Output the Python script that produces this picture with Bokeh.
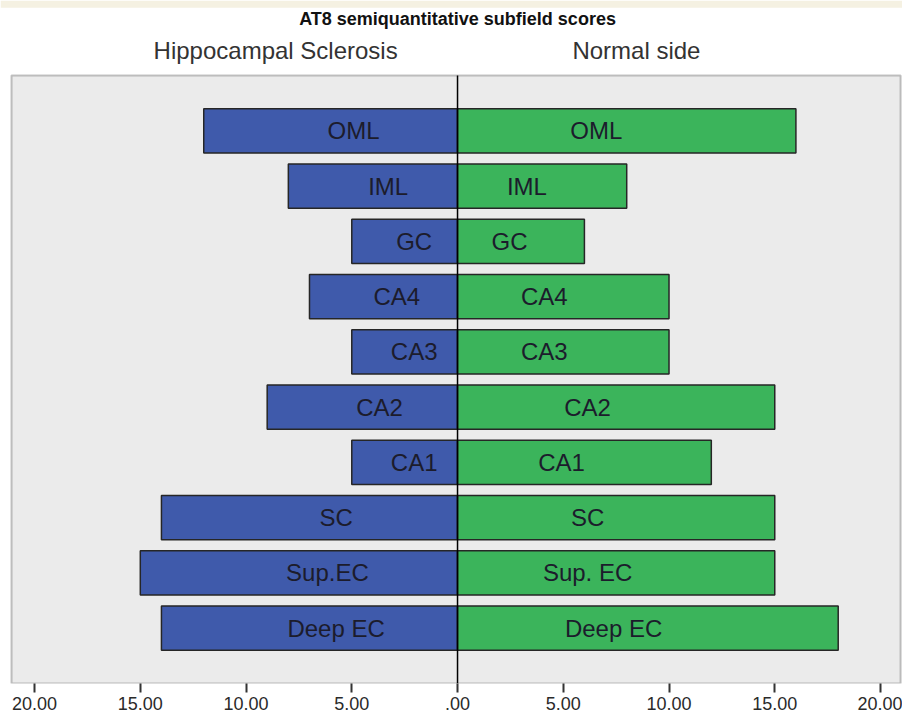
from bokeh.plotting import figure
from bokeh.models import ColumnDataSource, FixedTicker, Label, Range1d, BoxAnnotation
from bokeh.embed import file_html
from bokeh.resources import INLINE
from bokeh.core.properties import value

# ---- data ----
subfields = ["OML", "IML", "GC", "CA4", "CA3", "CA2", "CA1", "SC", "Sup.EC", "Deep EC"]
labels_left = ["OML", "IML", "GC", "CA4", "CA3", "CA2", "CA1", "SC", "Sup.EC", "Deep EC"]
labels_right = ["OML", "IML", "GC", "CA4", "CA3", "CA2", "CA1", "SC", "Sup. EC", "Deep EC"]
hs_scores = [12, 8, 5, 7, 5, 9, 5, 14, 15, 14]          # Hippocampal Sclerosis
normal_scores = [16, 8, 6, 10, 10, 15, 12, 15, 15, 18]  # Normal side
tick_values = [-20, -15, -10, -5, 0, 5, 10, 15, 20]
tick_labels = ["20.00", "15.00", "10.00", "5.00", ".00", "5.00", "10.00", "15.00", "20.00"]
title_text = "AT8 semiquantitative subfield scores"
left_title = "Hippocampal Sclerosis"
right_title = "Normal side"

# in-bar labels sit a bit inside of the bar middle (as in the source chart)
LABEL_FRAC = 0.41

n = len(subfields)
ypos = [n - i for i in range(n)]

left_src = ColumnDataSource(dict(
    y=ypos,
    left=[-v for v in hs_scores],
    right=[0] * n,
    lx=[-v * LABEL_FRAC for v in hs_scores],
    label=labels_left,
))
right_src = ColumnDataSource(dict(
    y=ypos,
    left=[0] * n,
    right=normal_scores,
    lx=[v * LABEL_FRAC for v in normal_scores],
    label=labels_right,
))

FONT = value("Liberation Sans")

# layout: frame spans the whole width; the grey plot box is drawn inside it
X_START, X_END = -21.61, 21.04
Y_TOP = 12.357  # space above the plot box holds the titles

p = figure(
    width=902, height=714,
    x_range=Range1d(X_START, X_END), y_range=Range1d(0, Y_TOP),
    output_backend="svg", toolbar_location=None,
    y_axis_location=None,
    min_border_left=0, min_border_right=0, min_border_top=0, min_border_bottom=31,
)
p.background_fill_color = "white"
p.border_fill_color = "white"
p.outline_line_color = None
p.grid.visible = False

# beige strip at the very top
p.add_layout(BoxAnnotation(bottom=Y_TOP - 0.13, fill_color="#f5f1e2", fill_alpha=1,
                           line_color=None, level="underlay"))
# grey plot box with dark outline
p.add_layout(BoxAnnotation(left=-21.09, right=20.95, bottom=0, top=n + 1,
                           fill_color="#ebebeb", fill_alpha=1,
                           line_color="#3a3a3a", line_width=2, level="underlay"))

p.hbar(y="y", left="left", right="right", height=0.8, source=left_src,
       fill_color="#3f5aab", line_color="#262626", line_width=1.5)
p.hbar(y="y", left="left", right="right", height=0.8, source=right_src,
       fill_color="#3bb45b", line_color="#262626", line_width=1.5)

p.text(x="lx", y="y", text="label", source=left_src, text_align="center",
       text_baseline="middle", text_font=FONT, text_font_size="24px",
       text_color="#1c1c2c")
p.text(x="lx", y="y", text="label", source=right_src, text_align="center",
       text_baseline="middle", text_font=FONT, text_font_size="24px",
       text_color="#1c1c2c")

# zero line
p.segment(x0=[0], y0=[0], x1=[0], y1=[n + 1], line_color="black", line_width=1.5)

ax = p.xaxis[0]
ax.ticker = FixedTicker(ticks=tick_values)
ax.major_label_overrides = {v: s for v, s in zip(tick_values, tick_labels)}
ax.minor_tick_line_color = None
ax.axis_line_color = None
ax.major_tick_line_color = "#333333"
ax.major_tick_line_width = 2
ax.major_tick_in = 0
ax.major_tick_out = 9
ax.major_label_standoff = 4
ax.major_label_text_font = "Liberation Sans"
ax.major_label_text_font_size = "18px"
ax.major_label_text_color = "#2a2a2a"

p.add_layout(Label(x=0.0, y=12.03, text=title_text, text_align="center",
                   text_baseline="middle", text_font="Liberation Sans",
                   text_font_style="bold", text_font_size="18px", text_color="#111111"))
p.add_layout(Label(x=-8.6, y=11.45, text=left_title, text_align="center",
                   text_baseline="middle", text_font="Liberation Sans",
                   text_font_size="24px", text_color="#333333"))
p.add_layout(Label(x=8.46, y=11.45, text=right_title, text_align="center",
                   text_baseline="middle", text_font="Liberation Sans",
                   text_font_size="24px", text_color="#333333"))

open("out.html", "w").write(file_html(p, INLINE))
